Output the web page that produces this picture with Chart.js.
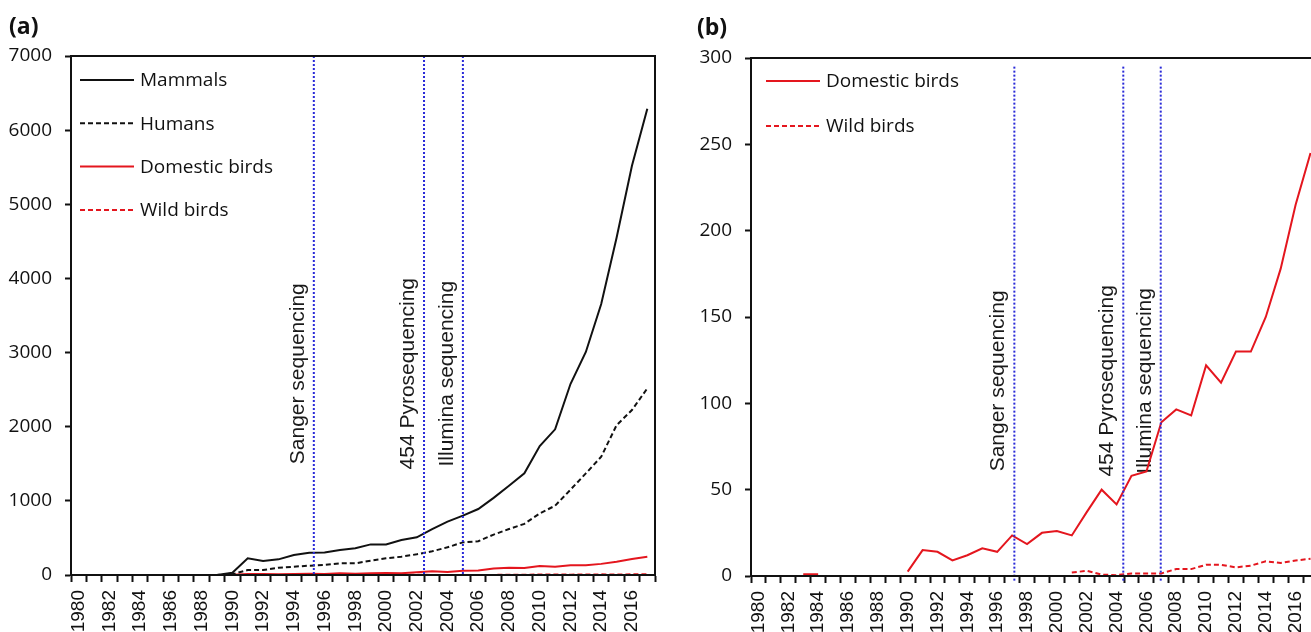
<!DOCTYPE html>
<html><head><meta charset="utf-8">
<script src="https://cdn.jsdelivr.net/npm/chart.js@4.4.1/dist/chart.umd.min.js"></script>
<style>
html,body{margin:0;padding:0;background:#fff;overflow:hidden;width:1311px;height:632px;}
#ca{position:absolute;left:0;top:0;width:665px;height:632px;}
#cb{position:absolute;left:680px;top:0;width:650px;height:632px;}
</style></head><body>
<canvas id="ca" width="665" height="632"></canvas>
<canvas id="cb" width="650" height="632"></canvas>
<script>
// ---------- data ----------
const years = ['1980','1981','1982','1983','1984','1985','1986','1987','1988','1989',
  '1990','1991','1992','1993','1994','1995','1996','1997','1998','1999',
  '2000','2001','2002','2003','2004','2005','2006','2007','2008','2009',
  '2010','2011','2012','2013','2014','2015','2016','2017'];

const mammals = [0,0,0,0,0,0,0,0,0,0,
  30,225,190,211,270,301,305,337,360,413,
  413,472,508,620,720,800,890,1040,1205,1372,
  1740,1965,2576,3008,3655,4550,5520,6290];

const humans = [0,0,0,0,0,0,0,0,0,0,
  10,67,67,99,112,126,135,157,157,193,
  225,247,279,320,374,440,455,545,620,690,
  830,935,1150,1370,1595,2020,2225,2518];

const domesticBirds = [null,null,null,1,1,null,null,null,null,null,
  2.5,15,14,9,12,16,14,23.5,18.5,25,
  26,23.5,37,50,41.5,58,60.5,89,96.5,93,
  122,112,130,130,150,178,215,245];

const wildBirds = [null,null,null,null,null,null,null,null,null,null,
  null,null,null,null,null,null,null,null,null,null,
  null,2,3,0.8,0.5,1.5,1.5,1.5,4,4,
  6.5,6.5,5,6,8.5,7.5,9,10];

const events = ['Sanger sequencing','454 Pyrosequencing','Illumina sequencing'];
const eventYearsA = [1995.3, 2002.47, 2005.0];
const eventYearsB = [1997.15, 2004.45, 2006.96];

const yTicksA = [0,1000,2000,3000,4000,5000,6000,7000];
const yTicksB = [0,50,100,150,200,250,300];

// ---------- styling ----------
const RED = '#e4161e', BLACK = '#111111', BLUE = '#2a2ad8';
const tickFontY = {family:'"Open Sans"', size:19};
const tickFontX = {family:'"Liberation Sans"', size:19};

function markerSets(yearsArr, yTop, yBot){
  return yearsArr.map((yr,i)=>({
    label: events[i], marker:true, xAxisID:'x2',
    data:[{x:yr,y:yTop},{x:yr,y:yBot}],
    borderColor:BLUE, borderWidth:2, borderDash:[2,2], pointRadius:0, clip:false, tension:0
  }));
}

const decor = {
  id:'decor',
  beforeDatasetsDraw(chart, args, o){
    const ctx=chart.ctx, xs=chart.scales.x2, ys=chart.scales.y;
    ctx.save();
    ctx.fillStyle='#1a1a1a';
    ctx.font='21px "Liberation Sans"';
    ctx.textAlign='center'; ctx.textBaseline='alphabetic';
    events.forEach((name,i)=>{
      const px=xs.getPixelForValue(o.eventYears[i]);
      const py=ys.getPixelForValue(o.textAt);
      ctx.save(); ctx.translate(px-10,py); ctx.rotate(-Math.PI/2);
      ctx.fillText(name,0,0); ctx.restore();
    });
    ctx.restore();
  },
  afterDraw(chart, args, o){
    const ctx=chart.ctx, a=chart.chartArea;
    ctx.save();
    ctx.strokeStyle=BLACK; ctx.lineWidth=2; ctx.setLineDash([]);
    ctx.strokeRect(a.left,a.top,a.right-a.left,a.bottom-a.top);
    ctx.fillStyle=BLACK; ctx.font='bold 23px "Open Sans"';
    ctx.textAlign='left'; ctx.textBaseline='alphabetic';
    ctx.fillText(o.panel,o.panelX,o.panelY);
    // legend
    ctx.font='19px "Open Sans"'; ctx.textBaseline='middle';
    let k=0;
    chart.data.datasets.forEach(ds=>{
      if(ds.marker) return;
      const y=a.top+o.legY0+k*o.legDY;
      ctx.strokeStyle=ds.borderColor; ctx.lineWidth=2;
      ctx.setLineDash(ds.borderDash||[]);
      ctx.beginPath(); ctx.moveTo(a.left+o.legX0,y); ctx.lineTo(a.left+o.legX1,y); ctx.stroke();
      ctx.setLineDash([]);
      ctx.fillStyle=BLACK; ctx.fillText(ds.label,a.left+o.legTX,y+1);
      k++;
    });
    ctx.restore();
  }
};

function makeScales(yMax, yTicks, yW, xH){
  return {
    x:{type:'category', offset:true,
      grid:{offset:true, drawOnChartArea:false, tickLength:7, tickColor:BLACK, tickWidth:2},
      border:{color:BLACK, width:2},
      ticks:{autoSkip:false, maxRotation:90, minRotation:90, padding:8, color:BLACK, font:tickFontX,
        callback:function(v,i){ const l=this.getLabelForValue(v); return (parseInt(l)%2===0)?l:''; }},
      afterFit(s){ s.height=xH; s.paddingLeft=0; s.paddingRight=0; }
    },
    x2:{type:'linear', display:false, min:1979.5, max:2017.5},
    y:{min:0, max:yMax,
      grid:{drawOnChartArea:false, tickLength:6, tickColor:BLACK, tickWidth:2},
      border:{color:BLACK, width:2},
      afterBuildTicks(s){ s.ticks = yTicks.map(v=>({value:v})); },
      ticks:{padding:13, color:BLACK, font:tickFontY, callback:(v)=>String(v)},
      afterFit(s){ s.width=yW; s.paddingTop=0; s.paddingBottom=0; }
    }
  };
}

const common = {
  responsive:false, maintainAspectRatio:false, animation:false, devicePixelRatio:1,
  elements:{point:{radius:0}, line:{tension:0}},
  plugins:{legend:{display:false}, tooltip:{enabled:false}}
};

new Chart(document.getElementById('ca'), {
  type:'line',
  data:{labels:years, datasets:[
    ...markerSets(eventYearsA, 7000, 0),
    {label:'Mammals', data:mammals, borderColor:BLACK, borderWidth:2},
    {label:'Humans', data:humans, borderColor:BLACK, borderWidth:2, borderDash:[5,3]},
    {label:'Domestic birds', data:domesticBirds, borderColor:RED, borderWidth:2},
    {label:'Wild birds', data:wildBirds, borderColor:RED, borderWidth:2, borderDash:[5,3]}
  ]},
  options:Object.assign({}, common, {
    layout:{padding:{top:56,right:10,left:0,bottom:0}},
    scales:makeScales(7000,yTicksA,71,57),
    plugins:Object.assign({}, common.plugins, {decor:{panel:'(a)',panelX:9,panelY:34,
      eventYears:eventYearsA, textAt:2715, legX0:9, legX1:63, legTX:69, legY0:24, legDY:43.3}})
  }),
  plugins:[decor]
});

new Chart(document.getElementById('cb'), {
  type:'line',
  data:{labels:years, datasets:[
    ...markerSets(eventYearsB, 295, -3.5),
    {label:'Domestic birds', data:domesticBirds, borderColor:RED, borderWidth:2},
    {label:'Wild birds', data:wildBirds, borderColor:RED, borderWidth:2, borderDash:[5,3]}
  ]},
  options:Object.assign({}, common, {
    layout:{padding:{top:58,right:12,left:0,bottom:0}},
    scales:makeScales(300,yTicksB,71,56),
    plugins:Object.assign({}, common.plugins, {decor:{panel:'(b)',panelX:17,panelY:35,
      eventYears:eventYearsB, textAt:113, legX0:15, legX1:69, legTX:75, legY0:23, legDY:45}})
  }),
  plugins:[decor]
});
</script>
</body></html>
